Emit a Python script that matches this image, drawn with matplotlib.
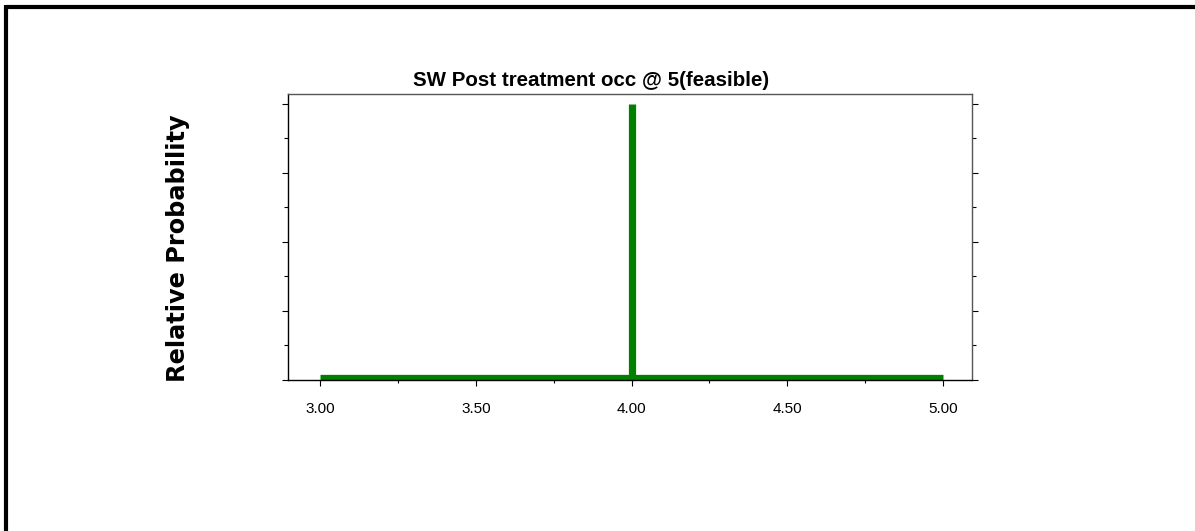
import matplotlib
matplotlib.use("Agg")
import matplotlib.pyplot as plt
from matplotlib.lines import Line2D
from matplotlib.ticker import MultipleLocator

# values
x_start, x_end = 3.0, 5.0
spike_x = 4.0
spike_height = 1.0
baseline = 0.012
xticks = [3.0, 3.5, 4.0, 4.5, 5.0]
xtick_labels = ["3.00", "3.50", "4.00", "4.50", "5.00"]
title = "SW Post treatment occ @ 5(feasible)"
ylabel = "Relative Probability"

W, H = 1195, 531
fig = plt.figure(figsize=(W / 100, H / 100), dpi=100)

# axes box in pixels: left 288, right 972, top 94, bottom 380
ax = fig.add_axes([288 / W, 1 - 380 / H, (972 - 288) / W, (380 - 94) / H])

green = "#008000"
ax.hlines(baseline, x_start, x_end, color=green, linewidth=3.8, capstyle="butt")
ax.vlines(spike_x, baseline, spike_height, color=green, linewidth=5.2, capstyle="butt")

ax.set_xlim(2.897, 5.093)
ax.set_ylim(0, 1.036)

ax.set_xticks(xticks)
ax.set_xticklabels(xtick_labels, fontfamily="Liberation Sans", fontsize=11)
ax.xaxis.set_minor_locator(MultipleLocator(0.25))
ax.set_yticks([0, 0.25, 0.5, 0.75, 1.0])
ax.yaxis.set_minor_locator(MultipleLocator(0.125))
ax.set_yticklabels([])
ax.tick_params(axis="x", which="major", length=4, width=0.8, pad=12)
ax.tick_params(axis="x", which="minor", length=2.5, width=0.8)
ax.tick_params(axis="y", which="both", left=True, right=True, length=4, width=0.8)
ax.tick_params(axis="y", which="minor", length=3)

for side in ["top", "right"]:
    ax.spines[side].set_color("#555555")
for side in ["left", "bottom"]:
    ax.spines[side].set_color("black")
for s in ax.spines.values():
    s.set_linewidth(1.0)

# title sits a bit left of the axes centre in the reference
fig.text(591 / W, 1 - 86 / H, title, ha="center", va="baseline",
         fontfamily="Liberation Sans", fontweight="bold", fontsize=14.8)

fig.text(178 / W, 1 - 248 / H, ylabel, rotation=90, ha="center", va="center",
         fontfamily="DejaVu Sans", fontweight="bold", fontsize=17.3)

# page frame: top and left edges only
fig.add_artist(Line2D([6 / W, 1], [1 - 7 / H, 1 - 7 / H], color="black", linewidth=3,
                      transform=fig.transFigure, solid_capstyle="butt"))
fig.add_artist(Line2D([6 / W, 6 / W], [0, 1 - 5 / H], color="black", linewidth=3,
                      transform=fig.transFigure, solid_capstyle="butt"))

fig.savefig("out.png", dpi=100)
